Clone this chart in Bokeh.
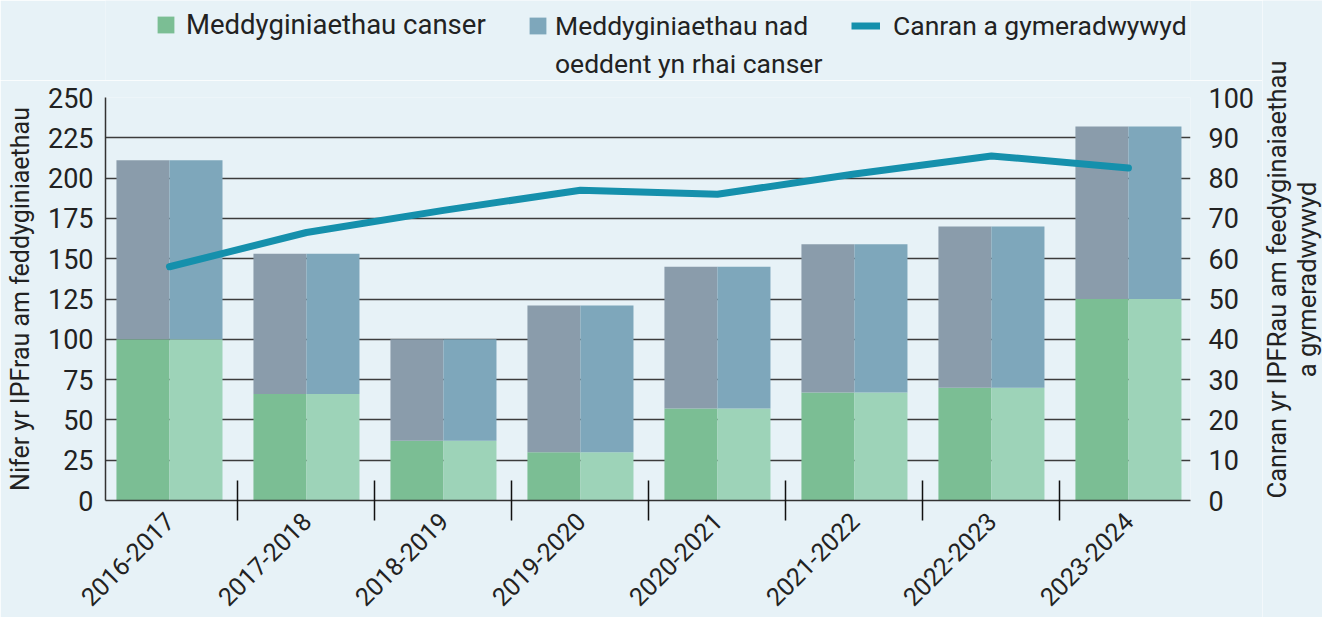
import math
from bokeh.plotting import figure
from bokeh.models import (Range1d, LinearAxis, FixedTicker, Legend, LegendItem,
                          ColumnDataSource, Label)
from bokeh.layouts import row, column
from bokeh.transform import dodge
from bokeh.embed import file_html
from bokeh.resources import INLINE

# ---------------- data ----------------
years = ["2016-2017", "2017-2018", "2018-2019", "2019-2020",
         "2020-2021", "2021-2022", "2022-2023", "2023-2024"]
cancer = [100, 66, 37, 30, 57, 67, 70, 125]
non_cancer = [111, 87, 63, 91, 88, 92, 100, 107]
pct_approved = [58, 66.5, 72, 77, 76, 81, 85.5, 82.5]

left_ticks = list(range(0, 251, 25))
right_ticks = list(range(0, 101, 10))

# ---------------- styling ----------------
BG = "#e7f2f7"
G_DARK = "#7bbe94"
G_LIGHT = "#9dd3b8"
B_DARK = "#8a9cab"
B_LIGHT = "#7ea7bb"
LINE = "#1590ac"
GRID = "#3c3c3c"
TXT = "#222222"
FONT = "Roboto"

W, H = 1322, 617
TITLE_W = 60           # strip on the right holding the right-hand axis title
LEG_H = 80             # strip on top holding the legend
MAIN_W = W - TITLE_W
MAIN_H = H - LEG_H

xs = list(range(len(years)))
totals = [c + n for c, n in zip(cancer, non_cancer)]
src = ColumnDataSource(dict(x=xs, cancer=cancer, non=non_cancer, total=totals,
                            pct=pct_approved))

# ---------------- main chart ----------------
p = figure(width=MAIN_W, height=MAIN_H, output_backend="svg", toolbar_location=None,
           x_range=Range1d(-0.467, 7.453), y_range=Range1d(0, 250),
           min_border_left=105, min_border_right=MAIN_W - 1190,
           min_border_top=17, min_border_bottom=117)
p.background_fill_color = BG
p.border_fill_color = BG
p.outline_line_color = None
p.extra_y_ranges = {"pct": Range1d(0, 100)}

HW = 0.387
p.vbar(x=dodge("x", -HW / 2), width=HW, bottom=0, top="cancer", source=src,
       fill_color=G_DARK, line_color=None)
p.vbar(x=dodge("x", HW / 2), width=HW, bottom=0, top="cancer", source=src,
       fill_color=G_LIGHT, line_color=None)
p.vbar(x=dodge("x", -HW / 2), width=HW, bottom="cancer", top="total", source=src,
       fill_color=B_DARK, line_color=None)
p.vbar(x=dodge("x", HW / 2), width=HW, bottom="cancer", top="total", source=src,
       fill_color=B_LIGHT, line_color=None)
p.line(x="x", y="pct", source=src, y_range_name="pct", line_color=LINE,
       line_width=7, line_cap="round", line_join="round")

p.xgrid.grid_line_color = None
p.ygrid.grid_line_color = GRID
p.ygrid.grid_line_width = 1.5
p.ygrid.level = "underlay"

xa = p.xaxis[0]
xa.ticker = FixedTicker(ticks=xs, minor_ticks=[i + 0.5 for i in xs[:-1]])
xa.major_label_overrides = {i: y for i, y in zip(xs, years)}
xa.major_tick_in = 0
xa.major_tick_out = 0
xa.minor_tick_in = 20
xa.minor_tick_out = 20
xa.minor_tick_line_color = "#111111"
xa.minor_tick_line_width = 1.5
xa.axis_line_color = "#333333"
xa.axis_line_width = 1.5
xa.major_label_orientation = math.pi / 4
xa.major_label_standoff = -4
xa.major_label_text_font = FONT
xa.major_label_text_font_size = "25px"
xa.major_label_text_color = TXT

ya = p.yaxis[0]
ya.ticker = FixedTicker(ticks=left_ticks)
ya.major_tick_in = 0
ya.major_tick_out = 0
ya.minor_tick_line_color = None
ya.axis_line_color = "#333333"
ya.axis_line_width = 1.5
ya.major_label_standoff = 12
ya.major_label_text_font = FONT
ya.major_label_text_font_size = "27px"
ya.major_label_text_color = TXT
ya.axis_label = "Nifer yr IPFrau am feddyginiaethau"
ya.axis_label_text_font = FONT
ya.axis_label_text_font_size = "25px"
ya.axis_label_text_font_style = "normal"
ya.axis_label_text_color = TXT
ya.axis_label_standoff = 10

ra = LinearAxis(y_range_name="pct", ticker=FixedTicker(ticks=right_ticks))
ra.axis_line_color = None
ra.major_tick_in = 0
ra.major_tick_out = 0
ra.minor_tick_line_color = None
ra.major_label_standoff = 18
ra.major_label_text_font = FONT
ra.major_label_text_font_size = "27px"
ra.major_label_text_color = TXT
p.add_layout(ra, "right")


def blank_fig(w, h):
    f = figure(width=w, height=h, output_backend="svg", toolbar_location=None,
               x_range=Range1d(0, w), y_range=Range1d(0, h),
               x_axis_location=None, y_axis_location=None,
               min_border=0)
    f.background_fill_color = BG
    f.border_fill_color = BG
    f.outline_line_color = None
    f.grid.grid_line_color = None
    return f


# ---------------- legend strip ----------------
lf = blank_fig(MAIN_W, LEG_H)
# zero-size helper glyphs that only supply the legend swatches
d_green = lf.vbar(x=[0], top=[0], bottom=[0], width=0, fill_color=G_DARK, line_color=None)
d_blue = lf.vbar(x=[0], top=[0], bottom=[0], width=0, fill_color=B_LIGHT, line_color=None)
d_line = lf.line(x=[0, 0], y=[0, 0], line_color=LINE, line_width=7)
d_none = lf.vbar(x=[0], top=[0], bottom=[0], width=0, fill_alpha=0, line_alpha=0)


def make_legend(label, rend, loc, glyph_w=21, glyph_h=21, standoff=10, size="26.5px"):
    lg = Legend(items=[LegendItem(label=label, renderers=[rend])],
                orientation="horizontal", location=loc)
    lg.background_fill_alpha = 0
    lg.border_line_color = None
    lg.padding = 0
    lg.margin = 0
    lg.spacing = 0
    lg.glyph_width = glyph_w
    lg.glyph_height = glyph_h
    lg.label_standoff = standoff
    lg.label_text_font = FONT
    lg.label_text_font_size = size
    lg.label_text_color = TXT
    lf.add_layout(lg, "center")


# locations are measured from the legend strip's frame (aligned with the chart frame)
make_legend("Meddyginiaethau canser", d_green, (50, 39), size="27.5px")
make_legend("Meddyginiaethau nad", d_blue, (422, 39), standoff=7)
make_legend("oeddent yn rhai canser", d_none, (449, 1), glyph_w=1, glyph_h=1, standoff=0)
make_legend("Canran a gymeradwywyd", d_line, (746, 39), glyph_w=29, standoff=13)

# ---------------- right-hand axis title strip ----------------
tf = blank_fig(TITLE_W, H)
tf.add_layout(Label(x=29, y=H - 279, angle=math.pi / 2,
                    text="Canran yr IPFRau am feedyginaiaethau\na gymeradwywyd",
                    text_align="center", text_baseline="middle", text_line_height=1.0,
                    text_font=FONT, text_font_size="25.5px", text_color=TXT))

layout = row(column(lf, p), tf)
open("out.html", "w").write(file_html(layout, INLINE))
